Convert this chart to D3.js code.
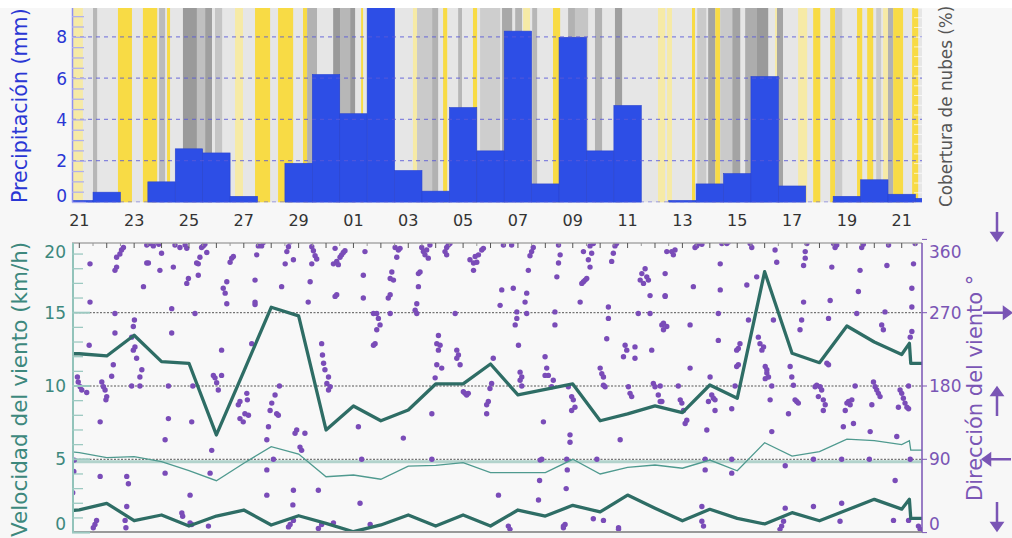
<!DOCTYPE html>
<html><head><meta charset="utf-8">
<script src="https://cdn.jsdelivr.net/npm/d3@7"></script>
<style>
body{margin:0;background:#f7f7f7;}
svg{display:block;font-family:"DejaVu Sans",sans-serif;}
</style>
</head><body>
<svg id="c" width="1012" height="538"></svg>
<script>
// ---------- DATA ----------
const dayLabels = ["21","23","25","27","29","01","03","05","07","09","11","13","15","17","19","21"];
// daily precipitation (mm), day index 0 = 21st
const precip = [0.1,0.5,0,1.0,2.6,2.4,0.3,0,1.9,6.2,4.3,11,1.55,0.55,4.6,2.5,8.3,0.9,8.0,2.5,4.7,0,0.1,0.9,1.4,6.1,0.8,0,0.3,1.1,0.4,0.2];
const precipTicks = [0,2,4,6,8];
// cloud cover bands [startDay, endDay, cover%] ; "sun" = sunshine, "haze" = weak sunshine
const cloudBands = [
 [0.23,0.63,"haze"],[1.00,1.15,50],[1.91,2.42,"sun"],[2.82,3.34,"sun"],[3.41,3.63,45],[3.70,3.81,"sun"],
 [4.28,4.79,80],[4.79,5.09,40],[5.09,5.34,75],[5.45,5.71,35],[6.18,6.47,"haze"],[6.91,7.46,"sun"],
 [7.75,8.30,"sun"],[8.66,8.81,"sun"],[8.81,9.17,55],[9.76,10.01,80],[10.01,10.38,50],[10.38,10.56,80],
 [10.78,10.85,"sun"],[12.67,12.82,"haze"],[12.82,13.37,30],[13.37,13.59,55],[13.77,13.92,"sun"],
 [14.32,14.46,50],[14.86,15.01,"sun"],[15.12,15.85,25],[15.92,16.29,65],[16.40,16.65,55],[16.69,16.94,"haze"],
 [17.02,17.20,50],[17.78,18.04,"sun"],[18.33,18.58,55],[18.58,19.06,35],[19.31,19.57,55],[20.04,20.30,75],
 [21.61,21.87,"haze"],[21.94,22.12,"haze"],[22.85,22.96,"sun"],[23.04,23.37,30],[23.44,23.70,70],
 [23.70,23.88,"sun"],[23.88,24.32,30],[24.32,24.61,70],[24.79,25.22,60],[25.22,25.63,80],[25.88,25.95,"haze"],
 [25.95,26.17,70],[26.72,27.05,"haze"],[27.27,27.53,"sun"],[27.89,28.07,"sun"],[28.07,28.33,30],
 [28.87,29.06,"sun"],[29.24,29.46,"sun"],[29.57,29.75,30],[29.82,30.00,"haze"],[30.00,30.19,55],
 [30.19,30.55,"sun"],[30.88,31.10,"sun"]
];
// wind speed lines (km/h)
const windT = [0.2,0.5,1.5,2.5,3.5,4.5,5.5,6.5,7.5,8.5,9.5,10.5,11.5,12.5,13.5,14.5,15.5,16.5,17.5,18.5,19.5,20.5,21.5,22.5,23.5,24.5,25.5,26.5,27.5,28.5,29.5,30.5,30.78,30.83,31.3];
const speedHigh = [12.2,12.2,12.05,13.46,11.66,11.55,6.66,11.0,15.37,14.78,7.0,8.64,7.63,8.36,10.14,10.14,11.5,9.39,9.77,10.14,7.63,8.1,8.64,8.18,10.07,9.16,17.8,12.23,11.59,14.09,13.0,12.15,12.91,11.55,11.55];
const speedMid = [5.52,5.45,5.11,5.18,4.84,4.22,3.54,4.73,5.86,5.36,3.81,3.93,3.64,4.54,4.59,4.77,4.09,4.09,4.09,5.0,4.0,4.45,4.61,4.39,4.95,4.22,6.13,5.22,5.52,6.38,6.27,6.0,6.27,5.63,5.63];
const speedLow = [1.5,1.55,2.0,0.81,1.2,0.45,1.13,1.54,0.52,1.15,0.63,0.06,0.52,1.2,0.45,1.2,0.45,1.54,1.13,1.86,1.41,2.56,1.66,0.81,1.59,0.97,0.59,1.36,0.81,1.54,2.27,1.6,2.27,0.97,0.97];
const speedTicks = [0,5,10,15,20];
const dirTicks = [0,90,180,270,360];
// wind direction observations [day, degrees]
const dirDots = [
[0.43,191],[0.46,185],[0.53,179],[0.59,175],[0.77,172],[0.32,89],[0.30,75],[0.26,49],
[0.89,330],[0.86,230],[0.89,283],[1.26,136],[1.26,69],[1.13,15],[1.07,10],[1.01,6],
[1.32,185],[1.38,179],[1.44,175],[1.50,167],[1.47,163],[1.80,269],[1.80,245],[1.74,206],[1.68,192],
[1.86,338],[1.98,342],[2.04,347],[2.11,350],[1.86,326],[1.80,322],[2.41,240],[2.47,253],[2.51,261],
[2.53,228],[2.47,224],[2.59,214],[2.41,180],[2.71,180],[2.71,191],[2.78,200],[2.84,302],
[2.23,69],[2.29,60],[2.23,32],[2.17,15],[2.20,6],[2.96,353],[3.08,355],[3.20,352],[3.32,357],[3.40,354],
[2.96,331],[3.02,331],[3.44,322],[3.50,343],[3.63,114],[3.63,73],[3.75,140],[3.75,180],
[3.87,275],[3.87,245],[3.93,326],[4.24,24],[4.27,20],[3.99,353],[4.17,350],[4.36,353],[4.42,349],
[4.42,306],[4.48,312],[4.60,136],[4.64,180],[4.72,269],[4.78,331],[4.84,330],[4.90,338],
[4.96,350],[5.02,352],[5.08,354],[5.15,344],[4.84,316],[4.54,46],[4.54,12],[4.60,10],
[5.33,101],[5.27,73],[5.21,8],[5.39,193],[5.45,190],[5.51,184],[5.57,175],[5.69,193],[5.69,224],
[5.75,300],[5.82,294],[5.88,308],[5.88,281],[6.00,332],[6.06,337],[6.12,339],
[6.30,157],[6.36,161],[6.61,171],[6.63,163],[6.54,146],[6.67,144],[6.36,140],[6.48,136],
[6.91,310],[6.91,283],[6.91,280],[6.97,341],[7.03,352],[7.15,352],[7.21,356],[6.79,232],
[7.34,114],[7.34,77],[7.40,130],[7.46,150],[7.52,159],[7.64,169],[7.70,146],[7.76,144],
[7.34,46],[7.58,90],[8.07,345],[8.13,351],[8.19,357],[8.01,330],[7.88,302],[7.80,180],
[8.31,335],[8.31,52],[8.29,34],[8.31,15],[8.19,10],[8.13,7],[8.43,126],[8.37,122],[8.55,105],[8.61,101],[8.73,122],
[8.85,283],[8.92,308],[8.98,351],[9.04,346],[9.10,340],[9.16,336],[8.98,330],[9.22,52],
[9.34,232],[9.37,218],[9.41,208],[9.46,200],[9.59,191],[9.53,183],[9.65,179],[9.59,175],
[9.77,330],[9.83,290],[9.77,12],[9.22,5],[9.34,10],
[9.83,349],[10.01,338],[10.07,341],[10.13,344],[10.19,346],[9.89,333],[9.95,329],
[10.92,345],[10.86,316],[10.86,288],[9.89,292],[12.02,350],[12.14,347],[12.20,349],[12.08,338],
[11.90,320],[11.84,312],[11.96,310],[11.77,288],[11.84,292],[11.84,269],[11.23,269],[11.35,269],
[11.41,263],[11.47,255],[11.35,249],[11.29,232],[11.23,230],[12.87,318],[12.87,302],
[12.81,281],[12.75,273],[12.81,269],[12.99,350],[13.05,345],[13.11,341],[13.17,347],
[13.29,353],[13.90,350],[13.96,353],[14.02,355],[13.84,345],[13.90,341],[13.23,337],[12.93,320],
[13.60,242],[13.54,232],[13.66,230],[13.60,224],[14.27,224],[14.33,218],[14.27,214],[14.39,206],
[13.54,206],[13.72,202],[13.48,190],[14.57,171],[14.63,169],[14.69,171],[14.51,173],[14.21,269],
[14.75,335],[14.88,331],[14.94,339],[15.00,332],[15.06,341],[15.18,347],[15.24,349],[14.88,322],
[15.60,214],[15.54,183],[15.48,177],[15.42,161],[15.36,157],[15.36,146],[15.97,353],[16.27,353],
[15.91,298],[15.85,279],[16.33,300],[16.46,271],[16.46,263],[16.40,255],[16.82,294],[16.76,283],[16.82,269],
[16.52,230],[16.58,197],[16.64,191],[16.58,187],[16.64,180],[17.06,350],[17.00,345],[16.94,340],[16.88,322],
[17.43,136],[17.49,216],[17.55,202],[17.49,193],[17.61,193],[17.79,187],[17.73,179],
[17.31,89],[17.29,64],[17.37,90],[17.25,40],[17.98,353],[18.04,341],[17.98,331],[17.92,314],
[17.85,271],[17.85,255],[18.34,179],[18.46,167],[18.52,163],[18.58,154],[18.46,150],
[18.40,120],[18.40,111],[18.28,90],[18.30,77],[18.26,54],[18.22,10],[18.16,6],
[18.89,308],[18.83,306],[18.95,310],[19.01,312],[18.77,283],[18.89,345],[19.07,335],[19.13,352],[19.25,355],[19.13,326],[19.19,343],
[19.50,202],[19.56,195],[19.62,191],[19.68,179],[19.62,181],[19.38,90],[19.25,17],[19.62,15],
[19.80,277],[19.80,263],[19.74,238],[19.92,333],[19.98,343],[20.04,352],[20.10,355],[20.23,114],
[20.41,230],[20.35,216],[20.47,224],[20.77,228],[20.77,214],[20.53,179],[20.59,171],[20.65,167],[20.17,6],
[21.38,224],[21.44,183],[21.50,179],[21.62,169],[21.69,161],[20.89,269],[21.32,269],
[20.96,310],[21.02,318],[21.14,324],[21.20,314],[21.08,306],[21.26,310],[21.32,291],[21.87,291],
[21.75,255],[21.81,249],[21.93,345],[10.74,36],[10.68,130],[10.80,90],[12.32,116],[13.36,90],[13.36,146],
[11.11,10],[15.79,46],[16.15,8],[16.21,4],[18.16,8],[20.17,4],
[21.87,318],[21.87,290],[21.93,253],[21.81,257],[22.17,341],[22.11,345],[22.23,347],
[22.90,302],[22.78,255],[22.96,350],[23.02,352],[23.08,355],[23.15,356],[23.21,354],[22.78,202],
[22.42,163],[22.48,159],[22.54,150],[22.66,138],[22.60,134],[21.69,180],[21.75,161],[22.35,180],
[23.39,126],[23.51,191],[23.57,169],[23.63,165],[23.69,163],[23.45,161],[23.69,150],
[23.33,90],[23.33,77],[23.21,32],[23.21,14],[23.27,8],[23.88,298],[23.88,330],[23.81,236],
[23.94,355],[24.06,357],[24.12,355],[24.18,357],[23.81,269],[24.30,152],[24.30,90],[24.30,73],
[24.48,204],[24.54,206],[24.48,224],[24.54,226],[24.60,232],[24.42,180],[24.85,304],[24.91,261],
[24.97,355],[25.03,350],[25.21,314],[25.27,240],[25.33,232],[25.40,224],[25.46,228],
[25.52,204],[25.58,200],[25.64,191],[25.52,189],[25.58,196],[25.82,261],[25.88,347],[25.94,332],
[25.76,180],[25.70,163],[25.76,124],[26.19,14],[26.12,8],[26.06,4],[26.25,82],
[26.43,204],[26.49,191],[26.55,181],[26.61,163],[26.67,161],[26.73,159],[26.37,146],[26.25,30],
[26.92,283],[26.85,261],[26.79,249],[26.98,345],[26.98,337],[27.04,355],[26.92,328],
[27.28,90],[27.28,32],[27.34,179],[27.40,181],[27.52,179],[27.46,167],[27.58,175],
[27.64,163],[27.71,157],[27.64,150],[27.77,208],[27.83,206],[27.89,285],[27.95,326],[27.83,263],
[28.01,355],[28.07,350],[28.13,353],[28.25,14],[28.31,90],[28.31,36],
[28.37,130],[28.50,159],[28.56,161],[28.62,157],[28.68,163],[28.44,150],
[28.74,134],[28.80,180],[28.86,269],[28.92,296],[28.98,322],[29.04,350],[29.10,354],
[29.35,124],[29.47,185],[29.53,179],[29.59,175],[29.65,171],[29.71,167],[29.41,157],[29.32,90],
[29.77,255],[29.83,249],[29.89,271],[29.96,328],[30.02,353],[30.26,64],[30.20,15],[30.32,118],[30.38,154],
[30.44,175],[30.50,171],[30.56,165],[30.62,159],[30.69,154],[30.75,152],[30.75,180],
[30.81,240],[30.87,247],[30.87,277],[30.87,300],[30.93,330],[30.99,355],[30.81,90],[31.11,8],[31.17,4],[30.75,15]
];

// ---------- DRAW ----------
const svg = d3.select("#c");
const X0 = 72, X1 = 922;
const x = d3.scaleLinear().domain([0.233, 31.24]).range([X0, X1]);
const TOP = 8, BASE = 202.5;
const yP = d3.scaleLinear().domain([0, 9.42]).range([BASE, TOP]);
const B0 = 243, B1 = 532;
const yS = d3.scaleLinear().domain([0, 20]).range([532.6, 239.4]);
const yD = d3.scaleLinear().domain([0, 360]).range([532.6, 239.4]);

const defs = svg.append("defs");
defs.append("clipPath").attr("id","cpTop").append("rect").attr("x",X0).attr("y",TOP).attr("width",X1-X0).attr("height",BASE-TOP);
defs.append("clipPath").attr("id","cpBot").append("rect").attr("x",X0).attr("y",B0).attr("width",X1-X0).attr("height",B1-B0);

svg.append("rect").attr("x",0).attr("y",0).attr("width",1012).attr("height",TOP).attr("fill","#ffffff");

// ---- top panel ----
const gT = svg.append("g").attr("clip-path","url(#cpTop)");
gT.append("rect").attr("x",X0).attr("y",TOP).attr("width",X1-X0).attr("height",BASE-TOP).attr("fill","#e6e6e6");
const grayCol = d3.scaleLinear().domain([0,100]).range(["#e6e6e6","#878787"]);
function bandColor(c){ if(c==="sun") return "#f8db45"; if(c==="haze") return "#f6eaa6"; return grayCol(c); }
gT.selectAll("rect.band").data(cloudBands).join("rect").attr("class","band")
  .attr("x",d=>x(d[0])).attr("width",d=>x(d[1])-x(d[0]))
  .attr("y",TOP).attr("height",BASE-TOP).attr("fill",d=>bandColor(d[2]));
gT.selectAll("rect.bar").data(precip).join("rect").attr("class","bar")
  .attr("x",(d,i)=>x(i)).attr("width",(d,i)=>x(i+1)-x(i))
  .attr("y",d=>yP(d)).attr("height",d=>BASE-yP(d))
  .attr("fill","#2d4ee6").attr("stroke","#2a44d0").attr("stroke-width",0.6);
gT.selectAll("line.pg").data(precipTicks).join("line").attr("class","pg")
  .attr("x1",X0).attr("x2",X1).attr("y1",d=>yP(d)-0.5).attr("y2",d=>yP(d)-0.5)
  .attr("stroke","#5a5ad8").attr("stroke-opacity",0.7).attr("stroke-dasharray","4,4").attr("stroke-width",1.2);
gT.selectAll("line.cr").data(d3.range(0,101,5)).join("line").attr("class","cr")
  .attr("x1",X1-8).attr("x2",X1).attr("y1",d=>BASE-(BASE-TOP)*d/100).attr("y2",d=>BASE-(BASE-TOP)*d/100)
  .attr("stroke","#ffffff").attr("stroke-opacity",0.7).attr("stroke-width",1);
svg.append("line").attr("x1",X0+0.5).attr("x2",X0+0.5).attr("y1",TOP).attr("y2",BASE).attr("stroke","#8f8ff0").attr("stroke-width",1.5);
const minorP = d3.range(0, 9.5, 0.5);
svg.selectAll("line.pmt").data(minorP).join("line").attr("class","pmt")
  .attr("x1",X0).attr("x2",d=>X0+(d%2===0?14:12)).attr("y1",d=>yP(d)).attr("y2",d=>yP(d))
  .attr("stroke","#b0b0ee").attr("stroke-width",1.3);
svg.selectAll("text.pl").data(precipTicks).join("text").attr("class","pl")
  .attr("x",67).attr("y",d=>d===0?yP(d)-7:yP(d)).attr("dy","0.36em")
  .attr("text-anchor","end").attr("font-size",17).attr("fill","#2a36d4").text(d=>d);
svg.selectAll("text.xl").data(dayLabels).join("text").attr("class","xl")
  .attr("x",(d,i)=>x(2*i+0.5)).attr("y",226).attr("text-anchor","middle")
  .attr("font-size",16).attr("fill","#333").text(d=>d);
svg.append("text").attr("transform","translate(27,203) rotate(-90)").attr("font-size",20.6)
  .attr("fill","#2a36d4").text("Precipitación (mm)");
svg.append("text").attr("transform","translate(952,207) rotate(-90)").attr("font-size",16.8)
  .attr("fill","#555").text("Cobertura de nubes (%)");

// ---- bottom panel ----
const gB = svg.append("g").attr("clip-path","url(#cpBot)");
gB.append("rect").attr("x",X0).attr("y",B0).attr("width",X1-X0).attr("height",B1-B0).attr("fill","#f8f8f8");
gB.append("line").attr("x1",X0).attr("x2",X1).attr("y1",yS(5)+2.5).attr("y2",yS(5)+2.5)
  .attr("stroke","#b2d3cc").attr("stroke-width",3);
gB.selectAll("line.sg").data([5,10,15]).join("line").attr("class","sg")
  .attr("x1",X0).attr("x2",X1).attr("y1",d=>yS(d)).attr("y2",d=>yS(d))
  .attr("stroke","#3a3a3a").attr("stroke-dasharray","2,1.5").attr("stroke-width",1).attr("stroke-opacity",0.85);
gB.selectAll("circle.dd").data(dirDots).join("circle").attr("class","dd")
  .attr("cx",d=>x(d[0])).attr("cy",d=>yD(d[1])).attr("r",2.7).attr("fill","#7a4cb8");
const lineGen = vals => d3.line().x((d,i)=>x(windT[i])).y(d=>yS(d))(vals);
gB.append("path").attr("d",lineGen(speedMid)).attr("fill","none").attr("stroke","#4f9a8f").attr("stroke-width",1.3);
gB.append("path").attr("d",lineGen(speedHigh)).attr("fill","none").attr("stroke","#2e6d65").attr("stroke-width",3.3).attr("stroke-linejoin","round");
gB.append("path").attr("d",lineGen(speedLow)).attr("fill","none").attr("stroke","#2e6d65").attr("stroke-width",3.3).attr("stroke-linejoin","round");
svg.append("line").attr("x1",X0).attr("x2",X1).attr("y1",B0).attr("y2",B0).attr("stroke","#a8a8a8").attr("stroke-width",1.5);
svg.append("line").attr("x1",X0).attr("x2",X1).attr("y1",B1).attr("y2",B1).attr("stroke","#999").attr("stroke-width",2);
svg.selectAll("line.tt").data(d3.range(0,31)).join("line").attr("class","tt")
  .attr("x1",d=>x(d+0.5)).attr("x2",d=>x(d+0.5)).attr("y1",B0).attr("y2",B0+5)
  .attr("stroke","#555").attr("stroke-width",1);
svg.selectAll("line.tm").data(d3.range(1,32)).join("line").attr("class","tm")
  .attr("x1",d=>x(d)).attr("x2",d=>x(d)).attr("y1",B0).attr("y2",B0+3)
  .attr("stroke","#999").attr("stroke-width",1);
svg.append("line").attr("x1",X0+1).attr("x2",X0+1).attr("y1",B0).attr("y2",B1).attr("stroke","#92c3ba").attr("stroke-width",2);
svg.selectAll("line.smt").data(d3.range(0,20,1)).join("line").attr("class","smt")
  .attr("x1",X0).attr("x2",d=>X0+(d%5===0?18:11)).attr("y1",d=>yS(d)).attr("y2",d=>yS(d))
  .attr("stroke","#9cc9c1").attr("stroke-width",d=>d%5===0?2:1.3);
svg.selectAll("text.sl").data(speedTicks).join("text").attr("class","sl")
  .attr("x",66).attr("y",d=>d===0?yS(d)-9:(d===20?yS(d)+12:yS(d))).attr("dy","0.36em")
  .attr("text-anchor","end").attr("font-size",17).attr("fill","#3d887d").text(d=>d);
svg.append("line").attr("x1",X1).attr("x2",X1).attr("y1",B0).attr("y2",B1).attr("stroke","#7a55b5").attr("stroke-width",1.5);
svg.selectAll("line.dt").data(dirTicks).join("line").attr("class","dt")
  .attr("x1",X1).attr("x2",X1+5).attr("y1",d=>yD(d)).attr("y2",d=>yD(d)).attr("stroke","#7a55b5");
svg.selectAll("text.dl").data(dirTicks).join("text").attr("class","dl")
  .attr("x",929).attr("y",d=>d===0?yD(d)-9:(d===360?yD(d)+12:yD(d))).attr("dy","0.36em")
  .attr("text-anchor","start").attr("font-size",17).attr("fill","#7a55b5").text(d=>d);
svg.append("text").attr("transform","translate(27,537) rotate(-90)").attr("font-size",21.5)
  .attr("fill","#3d887d").text("Velocidad del viento (km/h)");
svg.append("text").attr("transform","translate(982,501) rotate(-90)").attr("font-size",21)
  .attr("fill","#7a55b5").text("Dirección del viento °");

const arrowDirs = [[360,"down"],[270,"right"],[180,"up"],[90,"left"],[0,"down"]];
const AX = 997, acol = "#7a55b5";
function arrowPath(cx, cy, dir){
  const L=14, h=7, w=5;
  if(dir==="down") return `M${cx},${cy-L}L${cx},${cy+L-h}M${cx-w},${cy+L-h}L${cx+w},${cy+L-h}L${cx},${cy+L}Z`;
  if(dir==="up") return `M${cx},${cy+L}L${cx},${cy-L+h}M${cx-w},${cy-L+h}L${cx+w},${cy-L+h}L${cx},${cy-L}Z`;
  if(dir==="right") return `M${cx-L},${cy}L${cx+L-h},${cy}M${cx+L-h},${cy-w}L${cx+L-h},${cy+w}L${cx+L},${cy}Z`;
  return `M${cx+L},${cy}L${cx-L+h},${cy}M${cx-L+h},${cy-w}L${cx-L+h},${cy+w}L${cx-L},${cy}Z`;
}
const arrowY = d => d[0]===360 ? 226 : (d[0]===180 ? 402 : (d[0]===0 ? 516 : yD(d[0])));
svg.selectAll("path.ar").data(arrowDirs).join("path").attr("class","ar")
  .attr("d",d=>arrowPath(AX, arrowY(d), d[1]))
  .attr("stroke",acol).attr("stroke-width",2.5).attr("fill",acol);
</script>
</body></html>
